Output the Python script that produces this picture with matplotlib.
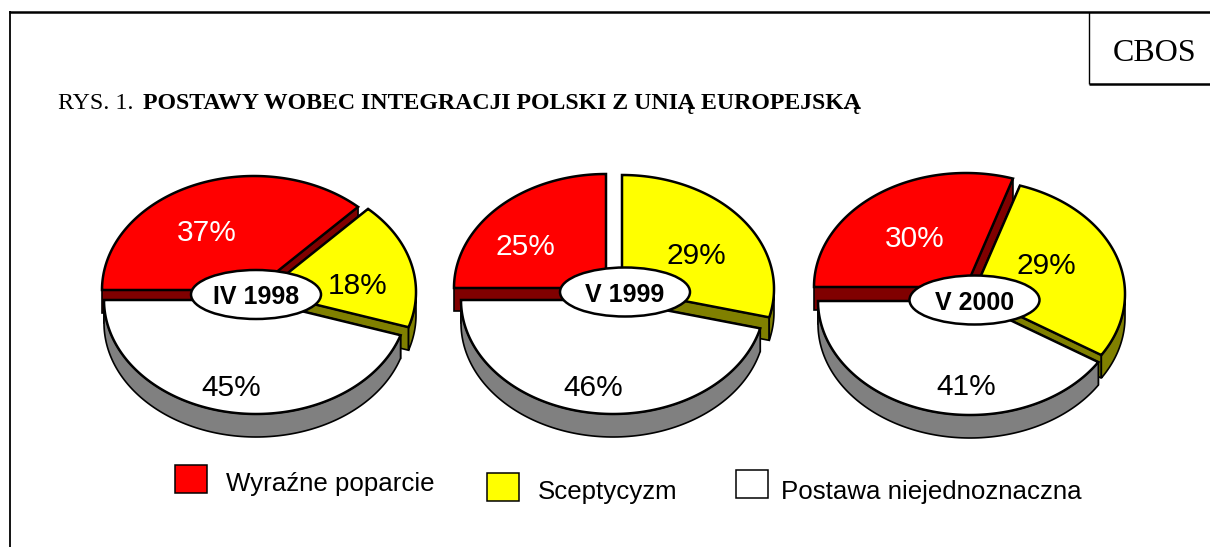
import matplotlib
matplotlib.use('Agg')
import matplotlib.pyplot as plt
import numpy as np
from matplotlib.patches import Ellipse, Polygon, Rectangle

# Dane
okresy = ['IV 1998', 'V 1999', 'V 2000']
poparcie = [37, 25, 30]
sceptycyzm = [18, 29, 29]
niejednoznaczna = [45, 46, 41]
kategorie = ['Wyraźne poparcie', 'Sceptycyzm', 'Postawa niejednoznaczna']

RED, DARK_RED = '#ff0000', '#800000'
YELLOW, OLIVE = '#ffff00', '#808000'
WHITE, GREY = '#ffffff', '#808080'

RX, RY, DEPTH = 152, 114, 23
LW = 1.8

fig = plt.figure(figsize=(12.1, 5.47), dpi=100)
ax = fig.add_axes([0, 0, 1, 1])
ax.set_xlim(0, 1210)
ax.set_ylim(547, 0)
ax.axis('off')


def rim(c, a):
    return np.column_stack([c[0] + RX*np.cos(a), c[1] - RY*np.sin(a)])


def draw_slice(c, a0, a1, top, side):
    # a0 > a1, katy w radianach, zgodnie z ruchem wskazowek
    apex = np.array(c, float)
    drop = np.array([0, DEPTH])
    for a in (a0, a1):
        p = rim(c, np.array([a]))[0]
        ax.add_patch(Polygon([apex, p, p + drop, apex + drop], fc=side, ec='black', lw=1.2))
    # bok widoczny tylko na przedniej polowie
    lo, hi = a1, min(a0, 0.0)
    if hi > lo:
        a = np.linspace(hi, lo, 120)
        pts = rim(c, a)
        ax.add_patch(Polygon(np.vstack([pts, pts[::-1] + drop]), fc=side, ec='black', lw=1.2))
    a = np.linspace(a0, a1, 200)
    ax.add_patch(Polygon(np.vstack([apex, rim(c, a)]), fc=top, ec='black', lw=LW, joinstyle='miter'))


# Polozenie wycinkow na stronie
red_centers = [(254, 290), (606, 288), (966, 287)]
yellow_centers = [(264, 292), (622, 289), (973, 294)]
white_centers = [(256, 300), (613, 300), (970, 301)]
ellipse_centers = [(256, 294.5), (625, 292), (974.5, 300)]
red_label_pos = [(207, 230), (525, 244), (915, 236)]
yellow_label_pos = [(358, 283), (696, 253), (1046, 263)]
white_label_pos = [(231, 385), (593, 385), (966, 384)]

for i in range(len(okresy)):
    a_start = np.pi
    a_red = a_start - poparcie[i]/100*2*np.pi
    a_yel = a_red - sceptycyzm[i]/100*2*np.pi
    a_whi = a_yel - niejednoznaczna[i]/100*2*np.pi

    draw_slice(red_centers[i], a_start, a_red, RED, DARK_RED)
    draw_slice(yellow_centers[i], a_red, a_yel, YELLOW, OLIVE)
    draw_slice(white_centers[i], a_yel, a_whi, WHITE, GREY)

    ax.add_patch(Ellipse(ellipse_centers[i], 130, 49, fc='white', ec='black', lw=LW, zorder=5))
    ax.text(*ellipse_centers[i], okresy[i], family='Liberation Sans', fontsize=18, fontweight='bold',
            ha='center', va='center_baseline', zorder=6)

    ax.text(*red_label_pos[i], f'{poparcie[i]}%', color='white', family='Liberation Sans', fontsize=21.5,
            ha='center', va='center_baseline', zorder=6)
    ax.text(*yellow_label_pos[i], f'{sceptycyzm[i]}%', color='black', family='Liberation Sans', fontsize=21.5,
            ha='center', va='center_baseline', zorder=6)
    ax.text(*white_label_pos[i], f'{niejednoznaczna[i]}%', color='black', family='Liberation Sans', fontsize=21.5,
            ha='center', va='center_baseline', zorder=6)

# Legenda
legend_boxes = [(175, 465), (487, 473), (736, 470)]
legend_text = [(226, 482), (538, 490), (781, 489)]
for box, pos, kat, col in zip(legend_boxes, legend_text, kategorie, [RED, YELLOW, WHITE]):
    ax.add_patch(Rectangle(box, 32, 28, fc=col, ec='black', lw=1.1))
    ax.text(*pos, kat, family='Liberation Sans', fontsize=18.6, ha='left', va='center_baseline')

# Ramka
ax.plot([10, 10], [547, 11], color='black', lw=1.3, solid_capstyle='butt')
ax.plot([9, 1210], [12, 12], color='black', lw=1.8, solid_capstyle='butt')
ax.plot([1089, 1089], [12, 84], color='black', lw=1, solid_capstyle='butt')
ax.plot([1089, 1210], [84, 84], color='black', lw=1.8, solid_capstyle='butt')
ax.text(1155, 50, 'CBOS', family='Liberation Serif', fontsize=23, ha='center', va='center_baseline')

# Tytul
ax.text(58, 109, 'RYS. 1. ', family='Liberation Serif', fontsize=17.2, ha='left', va='baseline')
ax.text(143, 109, 'POSTAWY WOBEC INTEGRACJI POLSKI Z UNIĄ EUROPEJSKĄ', family='Liberation Serif',
        fontsize=17.2, fontweight='bold', ha='left', va='baseline')

fig.savefig('out.png', dpi=100)
